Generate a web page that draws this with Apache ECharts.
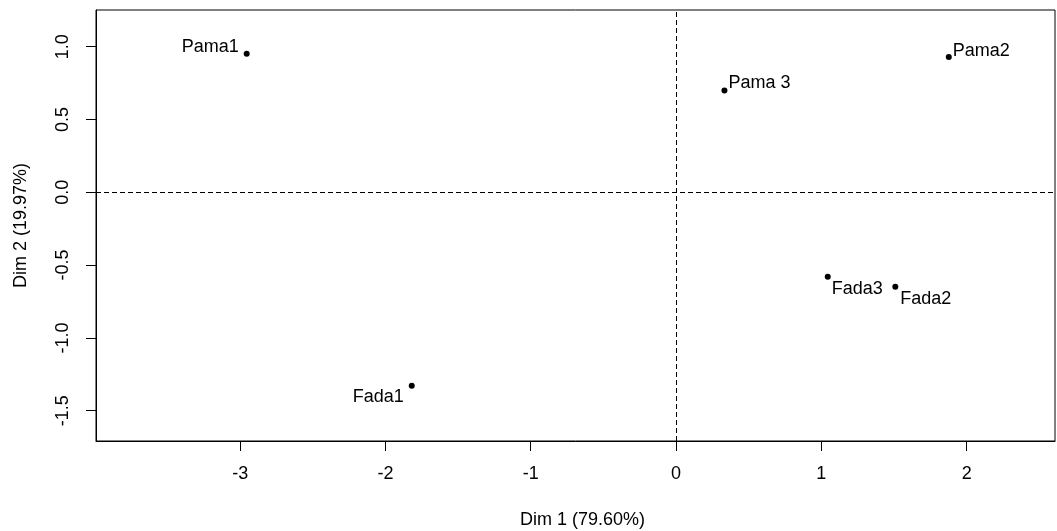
<!DOCTYPE html>
<html>
<head>
<meta charset="utf-8">
<script src="https://cdn.jsdelivr.net/npm/echarts@6/dist/echarts.min.js"></script>
<style>
html,body{margin:0;padding:0;background:#fff;}
#c{width:1057px;height:531px;}
</style>
</head>
<body>
<div id="c"></div>
<script>
// ---- data ----
const names = ['Pama1', 'Pama2', 'Pama 3', 'Fada1', 'Fada2', 'Fada3'];
const dim1 = [-2.955, 1.877, 0.333, -1.819, 1.509, 1.044];
const dim2 = [0.952, 0.929, 0.700, -1.328, -0.648, -0.580];
const xTicks = [-3, -2, -1, 0, 1, 2];
const yTicks = [-1.5, -1.0, -0.5, 0.0, 0.5, 1.0];
const xRange = [-3.992, 2.608];
const yRange = [-1.708, 1.252];
const xTitle = 'Dim 1 (79.60%)';
const yTitle = 'Dim 2 (19.97%)';

// ---- label placement (style) ----
const labelPlace = {
  'Pama1': {position: 'left', distance: 5, offset: [0, -7]},
  'Pama2': {position: 'right', distance: 1, offset: [0, -6]},
  'Pama 3': {position: 'right', distance: 1, offset: [0, -7]},
  'Fada1': {position: 'left', distance: 5, offset: [0, 11]},
  'Fada2': {position: 'right', distance: 2, offset: [0, 12]},
  'Fada3': {position: 'right', distance: 1, offset: [0, 12]}
};

const FONT = 'Liberation Sans, Arial, sans-serif';
const FS = 18;
const pts = names.map((n, i) => ({
  value: [dim1[i], dim2[i]],
  name: n,
  label: Object.assign({show: true, formatter: n, color: '#000', fontSize: FS, fontFamily: FONT}, labelPlace[n])
}));

const chart = echarts.init(document.getElementById('c'), null, {renderer: 'canvas'});
chart.setOption({
  animation: false,
  backgroundColor: '#fff',
  grid: {left: 96, top: 10, right: 2, bottom: 90, containLabel: false, outerBoundsMode: 'none',
    show: true, borderColor: '#000', borderWidth: 1, backgroundColor: 'transparent'},
  xAxis: {
    type: 'value', min: xRange[0], max: xRange[1],
    name: xTitle, nameLocation: 'middle', nameGap: 70,
    nameTextStyle: {color: '#000', fontSize: FS, fontFamily: FONT, padding: [0, 0, 0, 14]},
    axisLine: {show: true, onZero: false, lineStyle: {color: '#000', width: 1}},
    axisTick: {show: true, length: 10, inside: false, customValues: xTicks, lineStyle: {color: '#000'}},
    axisLabel: {show: true, customValues: xTicks, margin: 24, color: '#000', fontSize: FS, fontFamily: FONT,
      formatter: v => String(v)},
    splitLine: {show: false}
  },
  yAxis: {
    type: 'value', min: yRange[0], max: yRange[1],
    name: yTitle, nameLocation: 'middle', nameGap: 66, nameRotate: 90,
    nameTextStyle: {color: '#000', fontSize: FS, fontFamily: FONT},
    axisLine: {show: true, onZero: false, lineStyle: {color: '#000', width: 1}},
    axisTick: {show: true, length: 10, inside: false, customValues: yTicks, lineStyle: {color: '#000'}},
    axisLabel: {show: true, customValues: yTicks, rotate: 90, margin: 24, color: '#000', fontSize: FS, fontFamily: FONT,
      formatter: v => v.toFixed(1)},
    splitLine: {show: false}
  },
  series: [{
    type: 'scatter',
    symbol: 'circle',
    symbolSize: 6,
    itemStyle: {color: '#000', opacity: 1},
    data: pts,
    markLine: {
      silent: true,
      symbol: ['none', 'none'],
      label: {show: false},
      lineStyle: {color: '#000', width: 1, type: [5, 3], opacity: 1},
      data: [{xAxis: 0}, {yAxis: 0}]
    }
  }]
});
</script>
</body>
</html>
